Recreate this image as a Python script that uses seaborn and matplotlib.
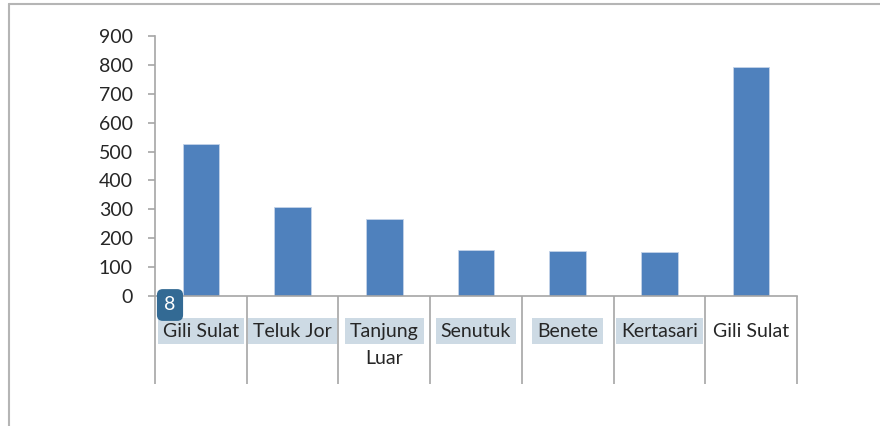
import matplotlib
matplotlib.use("Agg")
import matplotlib.pyplot as plt
import seaborn as sns
import pandas as pd
from matplotlib.lines import Line2D

locations = ["Gili Sulat", "Teluk Jor", "Tanjung\nLuar", "Senutuk", "Benete", "Kertasari", "Gili Sulat"]
counts = [527, 308, 266, 159, 155, 152, 792]
highlighted = [True, True, True, True, True, True, False]
y_ticks = [0, 100, 200, 300, 400, 500, 600, 700, 800, 900]

df = pd.DataFrame({"pos": range(len(locations)), "count": counts})

sns.set_style("white")
plt.rcParams["font.family"] = ["Lato", "DejaVu Sans"]

grey = "#a6a6a6"
text_col = "#262626"
fs = 14

fig = plt.figure(figsize=(8.8, 4.26), dpi=100)
ax = fig.add_axes([155 / 880, 1 - 296 / 426, 642 / 880, 260 / 426])

sns.barplot(data=df, x="pos", y="count", color="#4f81bd", saturation=1,
            width=0.4, ax=ax, edgecolor="#c3d3e8", linewidth=0.6)

ax.set_xlim(-0.5, len(locations) - 0.5)
ax.set_ylim(0, 900)
ax.set_yticks(y_ticks)
ax.set_yticklabels([str(t) for t in y_ticks], fontsize=fs, color=text_col)
ax.set_xlabel("")
ax.set_ylabel("")

# category boundary ticks, long like the spreadsheet original
ax.set_xticks([i - 0.5 for i in range(len(locations) + 1)])
ax.set_xticklabels([])
ax.tick_params(axis="x", bottom=True, direction="out", length=63, width=1.2, color=grey)
ax.tick_params(axis="y", left=True, direction="out", length=5, width=1.2, color=grey, pad=11)

for side in ["top", "right"]:
    ax.spines[side].set_visible(False)
for side in ["left", "bottom"]:
    ax.spines[side].set_color(grey)
    ax.spines[side].set_linewidth(1.2)

trans = ax.get_xaxis_transform()
for i, (lab, hl) in enumerate(zip(locations, highlighted)):
    lines = lab.split("\n")
    box = dict(boxstyle="square,pad=0.25", facecolor="#cddae4", edgecolor="none") if hl else None
    ax.text(i, -0.135, lines[0], transform=trans, ha="center", va="center",
            fontsize=fs, color=text_col, bbox=box, clip_on=False)
    for k, extra in enumerate(lines[1:]):
        ax.text(i, -0.24 - 0.105 * k, extra, transform=trans, ha="center", va="center",
                fontsize=fs, color=text_col, clip_on=False)

# badge
fig.text(170 / 880, 1 - 305 / 426, "8", ha="center", va="center", fontsize=fs, color="white",
         bbox=dict(boxstyle="round,pad=0.38,rounding_size=0.3", facecolor="#336a94", edgecolor="none"))

# outer frame lines
fig.add_artist(Line2D([9 / 880, 1], [1 - 4 / 426, 1 - 4 / 426], color="#b5b5b5", linewidth=1.5))
fig.add_artist(Line2D([9 / 880, 9 / 880], [0, 1 - 4 / 426], color="#b5b5b5", linewidth=1.5))

fig.savefig("out.png", dpi=100)
